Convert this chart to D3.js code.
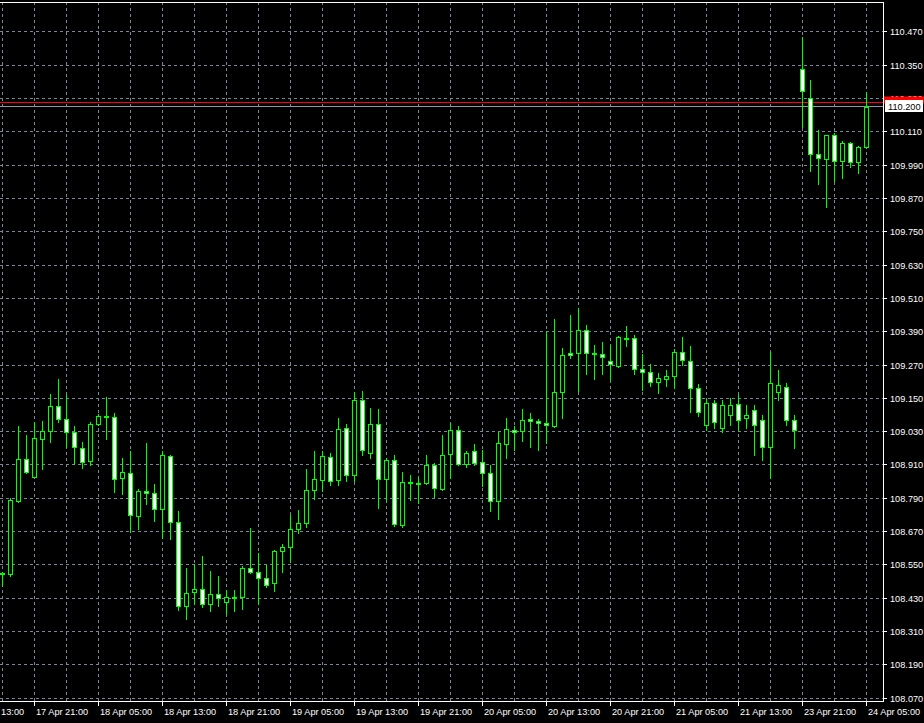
<!DOCTYPE html>
<html><head><meta charset="utf-8">
<script src="https://cdn.jsdelivr.net/npm/d3@7"></script>
<style>html,body{margin:0;padding:0;background:#000;overflow:hidden}</style>
</head><body>
<svg id="c" width="924" height="723"></svg>
<script>
// ---- data (USDJPY H1) ----
const openP = [108.519,108.516,108.782,108.931,108.868,109.005,109.032,109.122,109.075,109.028,
108.971,108.924,109.057,109.083,109.082,108.863,108.881,108.728,108.816,108.809,
108.753,108.942,108.704,108.402,108.452,108.463,108.408,108.445,108.415,108.433,
108.433,108.539,108.523,108.503,108.485,108.600,108.614,108.679,108.700,108.819,
108.855,108.938,108.855,109.042,108.873,109.143,108.952,109.057,108.859,108.929,
108.693,108.846,108.844,108.844,108.909,108.825,108.949,109.035,108.913,108.959,
108.920,108.880,108.782,108.987,109.035,109.031,109.075,109.067,109.060,109.049,
109.172,109.312,109.312,109.395,109.310,109.310,109.283,109.268,109.366,109.366,
109.255,109.244,109.208,109.219,109.229,109.316,109.283,109.186,109.054,109.133,
109.043,109.090,109.130,109.079,109.108,109.072,108.975,109.173,109.191,109.072,
110.335,110.230,110.029,110.011,110.097,110.003,110.068,110.000,110.054];
const closeP = [108.520,108.784,108.931,108.886,109.007,109.032,109.122,109.075,109.028,108.973,
108.920,109.057,109.086,109.085,108.859,108.884,108.729,108.816,108.809,108.753,
108.945,108.704,108.402,108.449,108.463,108.408,108.445,108.432,108.434,108.435,
108.539,108.523,108.503,108.477,108.600,108.614,108.679,108.700,108.819,108.859,
108.941,108.851,109.039,108.873,109.143,108.963,109.057,108.859,108.929,108.697,
108.848,108.848,108.845,108.909,108.826,108.945,109.035,108.913,108.952,108.916,
108.880,108.779,108.988,109.039,109.028,109.071,109.067,109.060,109.053,109.172,
109.305,109.305,109.395,109.312,109.312,109.298,109.273,109.370,109.368,109.257,
109.244,109.208,109.222,109.229,109.316,109.287,109.186,109.100,109.133,109.065,
109.126,109.126,109.072,109.090,109.054,108.975,109.205,109.198,109.072,109.036,
110.255,110.029,110.014,110.097,110.003,110.068,110.000,110.054,110.200];
const highP = [108.524,108.791,109.051,109.018,109.064,109.069,109.166,109.220,109.162,109.050,
108.992,109.064,109.093,109.155,109.098,108.936,108.961,108.822,108.990,108.842,
108.961,108.946,108.745,108.540,108.553,108.583,108.529,108.511,108.460,108.460,
108.548,108.684,108.594,108.550,108.604,108.626,108.730,108.748,108.896,108.960,
108.960,108.952,109.079,109.058,109.172,109.175,109.114,109.111,108.934,108.945,
108.884,108.873,108.866,108.945,108.916,109.018,109.062,109.050,108.959,108.986,
108.964,108.909,109.030,109.079,109.049,109.112,109.097,109.075,109.388,109.436,
109.330,109.450,109.474,109.413,109.341,109.353,109.343,109.373,109.410,109.377,
109.310,109.273,109.240,109.251,109.327,109.370,109.337,109.201,109.151,109.144,
109.144,109.151,109.162,109.126,109.126,109.090,109.317,109.252,109.205,109.090,
110.452,110.295,110.115,110.099,110.104,110.075,110.072,110.057,110.252];
const lowP = [108.474,108.512,108.776,108.882,108.866,108.894,108.994,109.066,108.975,108.915,
108.899,108.909,109.055,109.005,108.814,108.807,108.668,108.681,108.768,108.710,
108.647,108.642,108.388,108.356,108.408,108.400,108.385,108.404,108.374,108.385,
108.392,108.521,108.408,108.469,108.458,108.526,108.560,108.665,108.687,108.789,
108.818,108.839,108.839,108.854,108.854,108.945,108.935,108.754,108.784,108.689,
108.686,108.783,108.772,108.841,108.794,108.821,108.864,108.909,108.904,108.911,
108.836,108.744,108.716,108.936,108.965,108.998,108.976,108.965,108.990,109.046,
109.080,109.296,109.178,109.239,109.221,109.239,109.216,109.264,109.340,109.239,
109.181,109.196,109.170,109.196,109.186,109.269,109.102,109.086,109.036,109.043,
109.029,109.054,109.036,109.043,108.946,108.928,108.863,109.144,109.054,108.971,
110.128,109.970,109.923,109.840,109.934,109.944,109.984,109.962,110.052];
const yTicks = [108.070,108.190,108.310,108.430,108.550,108.670,108.790,108.910,109.030,109.150,
109.270,109.390,109.510,109.630,109.750,109.870,109.990,110.110,110.230,110.350,110.470];
const xTickIndex = [-4,4,12,20,28,36,44,52,60,68,76,84,92,100,108];
const xTickLabels = ["17 Apr 13:00","17 Apr 21:00","18 Apr 05:00","18 Apr 13:00","18 Apr 21:00",
"19 Apr 05:00","19 Apr 13:00","19 Apr 21:00","20 Apr 05:00","20 Apr 13:00","20 Apr 21:00",
"21 Apr 05:00","21 Apr 13:00","23 Apr 21:00","24 Apr 05:00"];
const askPrice = 110.216, bidPrice = 110.200;

// ---- drawing ----
const svg = d3.select("#c");
const W = 924, H = 723, plotR = 883, plotB = 701, plotT = 2;
svg.append("rect").attr("width",W).attr("height",H).attr("fill","#000");
const y = d3.scaleLinear().domain([108.070,110.470]).range([698.3,31.7]);
const x = d3.scaleLinear().domain([0,108]).range([2,866]);
const py = v => Math.floor(y(v)) + 0.5;
const px = i => Math.round(x(i)) + 0.5;
const gridColor = "#778899";
const font = "'Liberation Sans', Arial, sans-serif";

// grid
const g = svg.append("g");
g.selectAll("line.h").data(yTicks).join("line")
  .attr("x1",0).attr("x2",plotR).attr("y1",d=>py(d)).attr("y2",d=>py(d))
  .attr("stroke",gridColor).attr("stroke-dasharray","3,3");
const vIdx = d3.range(0,109,4);
g.selectAll("line.v").data(vIdx).join("line")
  .attr("x1",d=>px(d)).attr("x2",d=>px(d)).attr("y1",plotT).attr("y2",plotB)
  .attr("stroke",gridColor).attr("stroke-dasharray","3,3");

// bid / ask lines
svg.append("line").attr("x1",0).attr("x2",plotR).attr("y1",py(bidPrice)).attr("y2",py(bidPrice))
  .attr("stroke","#8f9aa6").attr("stroke-width",1);
svg.append("line").attr("x1",0).attr("x2",W).attr("y1",py(askPrice)).attr("y2",py(askPrice))
  .attr("stroke","#ff0000").attr("stroke-width",1);

// candles
const data = openP.map((o,i)=>({i,o,c:closeP[i],h:highP[i],l:lowP[i]}));
const cg = svg.append("g");
cg.selectAll("line.w").data(data).join("line")
  .attr("x1",d=>px(d.i)).attr("x2",d=>px(d.i))
  .attr("y1",d=>Math.round(y(d.h))).attr("y2",d=>Math.round(y(d.l))+1)
  .attr("stroke","#00ff00");
cg.selectAll("rect.b").data(data).join("rect")
  .attr("x",d=>px(d.i)-2).attr("width",4)
  .attr("y",d=>Math.round(y(Math.max(d.o,d.c)))+0.5)
  .attr("height",d=>Math.max(1,Math.round(y(Math.min(d.o,d.c)))-Math.round(y(Math.max(d.o,d.c)))))
  .attr("fill",d=>d.c<d.o?"#ffffff":"#000000")
  .attr("stroke","#00ff00").attr("stroke-width",1);

// frame
svg.append("line").attr("x1",plotR+0.5).attr("x2",plotR+0.5).attr("y1",plotT).attr("y2",plotB+1).attr("stroke","#fff");
svg.append("line").attr("x1",0).attr("x2",plotR+1).attr("y1",plotB+0.5).attr("y2",plotB+0.5).attr("stroke","#fff");
svg.append("line").attr("x1",0).attr("x2",plotR+1).attr("y1",plotT+0.5).attr("y2",plotT+0.5).attr("stroke","#fff");

// y axis ticks + labels
svg.selectAll("line.yt").data(yTicks).join("line")
  .attr("x1",plotR+1).attr("x2",plotR+4).attr("y1",d=>py(d)).attr("y2",d=>py(d)).attr("stroke","#fff");
svg.selectAll("text.yl").data(yTicks).join("text")
  .attr("x",890).attr("y",d=>py(d)+3.5).attr("fill","#fff")
  .attr("font-family",font).attr("font-size","9.2px").text(d=>d.toFixed(3));

// x axis ticks + labels
const xt = xTickIndex.map((k,j)=>({k,label:xTickLabels[j]}));
svg.selectAll("line.xt").data(xt).join("line")
  .attr("x1",d=>px(d.k)).attr("x2",d=>px(d.k)).attr("y1",plotB+1).attr("y2",plotB+5).attr("stroke","#fff");
svg.selectAll("text.xl").data(xt).join("text")
  .attr("x",d=>px(d.k)+1.5).attr("y",715).attr("fill","#fff")
  .attr("font-family",font).attr("font-size","9.2px").text(d=>d.label);

// price labels (ask red, bid white)
svg.append("rect").attr("x",plotR+1).attr("y",py(askPrice)-6).attr("width",W-plotR).attr("height",7).attr("fill","#ff0000");
svg.append("rect").attr("x",885).attr("y",py(bidPrice)-6.5).attr("width",38).attr("height",12).attr("fill","#ffffff");
svg.append("text").attr("x",888).attr("y",py(bidPrice)+3.5).attr("fill","#000")
  .attr("font-family",font).attr("font-size","9.2px").text(bidPrice.toFixed(3));
</script>
</body></html>
